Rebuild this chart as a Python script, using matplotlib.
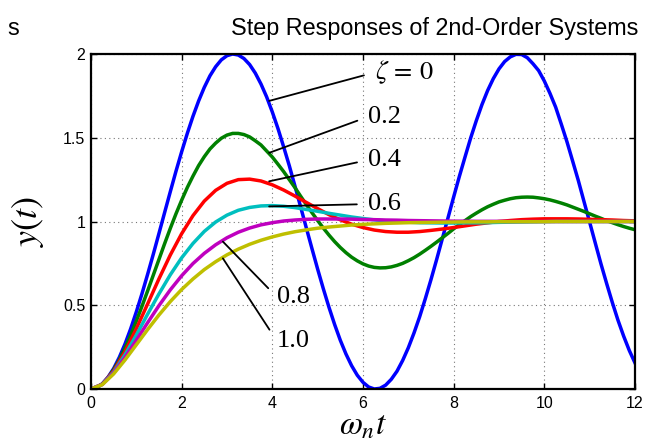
import numpy as np
import matplotlib
matplotlib.use("Agg")
import matplotlib.pyplot as plt

plt.rcParams['mathtext.fontset'] = 'stix'
plt.rcParams['font.family'] = ['Liberation Sans', 'DejaVu Sans']

# omega_n * t sample points (finer grid for the two most oscillating curves)
t_fine = np.arange(0, 12.001, 0.125)
t = np.arange(0, 12.001, 0.25)

# step responses, one list per damping ratio
y_z00 = [0.000, 0.008, 0.031, 0.070, 0.122, 0.189, 0.268, 0.359, 0.460, 0.569,
         0.685, 0.805, 0.929, 1.054, 1.178, 1.300, 1.416, 1.526, 1.628, 1.720,
         1.801, 1.870, 1.924, 1.965, 1.990, 2.000, 1.994, 1.973, 1.937, 1.886,
         1.821, 1.744, 1.654, 1.555, 1.446, 1.333, 1.211, 1.087, 0.962, 0.838,
         0.716, 0.599, 0.488, 0.385, 0.291, 0.209, 0.139, 0.082, 0.040, 0.012,
         0.000, 0.004, 0.023, 0.058, 0.106, 0.170, 0.246, 0.334, 0.431, 0.539,
         0.653, 0.773, 0.897, 1.021, 1.146, 1.268, 1.384, 1.498, 1.602, 1.698,
         1.782, 1.853, 1.911, 1.955, 1.983, 1.998, 1.997, 1.978, 1.942, 1.901,
         1.839, 1.765, 1.683, 1.581, 1.476, 1.361, 1.245, 1.120, 0.996, 0.871,
         0.747, 0.630, 0.517, 0.411, 0.316, 0.230, 0.156]
y_z02 = [0.000, 0.008, 0.030, 0.066, 0.115, 0.174, 0.244, 0.321, 0.405, 0.494,
         0.586, 0.680, 0.774, 0.868, 0.959, 1.046, 1.127, 1.203, 1.271, 1.334,
         1.387, 1.433, 1.468, 1.497, 1.516, 1.526, 1.526, 1.519, 1.505, 1.482,
         1.457, 1.421, 1.385, 1.342, 1.298, 1.250, 1.202, 1.151, 1.101, 1.053,
         1.006, 0.961, 0.919, 0.880, 0.845, 0.814, 0.787, 0.765, 0.747, 0.734,
         0.726, 0.723, 0.724, 0.729, 0.738, 0.750, 0.766, 0.784, 0.805, 0.828,
         0.852, 0.877, 0.903, 0.929, 0.956, 0.981, 1.005, 1.029, 1.050, 1.070,
         1.088, 1.103, 1.117, 1.127, 1.136, 1.142, 1.145, 1.146, 1.145, 1.141,
         1.136, 1.129, 1.120, 1.110, 1.099, 1.086, 1.073, 1.060, 1.046, 1.032,
         1.019, 1.005, 0.993, 0.981, 0.970, 0.960, 0.951]
y_z04 = [0.000, 0.029, 0.108, 0.222, 0.360, 0.508, 0.658, 0.800, 0.927, 1.035,
         1.122, 1.186, 1.228, 1.250, 1.253, 1.242, 1.219, 1.188, 1.152, 1.114,
         1.077, 1.041, 1.010, 0.984, 0.964, 0.949, 0.940, 0.936, 0.936, 0.940,
         0.947, 0.955, 0.964, 0.974, 0.984, 0.992, 1.000, 1.006, 1.011, 1.014,
         1.016, 1.016, 1.016, 1.015, 1.013, 1.011, 1.009, 1.006, 1.004]
y_z06 = [0.000, 0.028, 0.101, 0.204, 0.322, 0.447, 0.568, 0.682, 0.783, 0.869,
         0.941, 0.997, 1.038, 1.067, 1.084, 1.093, 1.095, 1.091, 1.083, 1.072,
         1.061, 1.049, 1.038, 1.027, 1.018, 1.010, 1.004, 0.999, 0.996, 0.993,
         0.992, 0.991, 0.991, 0.992, 0.992, 0.993, 0.995, 0.996, 0.997, 0.998,
         0.999, 1.000, 1.000, 1.000, 1.000, 1.000, 1.000, 1.000, 1.000]
y_z08 = [0.000, 0.027, 0.096, 0.188, 0.291, 0.396, 0.498, 0.592, 0.676, 0.749,
         0.810, 0.861, 0.903, 0.936, 0.961, 0.980, 0.993, 1.003, 1.009, 1.013,
         1.015, 1.015, 1.015, 1.014, 1.012, 1.011, 1.009, 1.008, 1.006, 1.005,
         1.004, 1.003, 1.002, 1.002, 1.001, 1.001, 1.001, 1.000, 1.000, 1.000,
         1.000, 1.000, 1.000, 1.000, 1.000, 1.000, 1.000, 1.000, 1.000]
y_z10 = [0.000, 0.026, 0.090, 0.173, 0.264, 0.355, 0.442, 0.522, 0.594, 0.657,
         0.713, 0.760, 0.801, 0.835, 0.864, 0.888, 0.908, 0.925, 0.939, 0.950,
         0.960, 0.967, 0.973, 0.979, 0.983, 0.986, 0.989, 0.991, 0.993, 0.994,
         0.995, 0.996, 0.997, 0.998, 0.998, 0.998, 0.999, 0.999, 0.999, 0.999,
         0.999, 1.000, 1.000, 1.000, 1.000, 1.000, 1.000, 1.000, 1.000]

series = [(t_fine, y_z00), (t_fine, y_z02), (t, y_z04), (t, y_z06), (t, y_z08), (t, y_z10)]
colors = ['#0000ff', '#008000', '#ff0000', '#00bfbf', '#bf00bf', '#bfbf00']

labels = [r'$\zeta\,=\,0$', '0.2', '0.4', '0.6', '0.8', '1.0']
# (curve point, text point) for each label line
label_xy = [(3.93, 1.72), (3.93, 1.41), (3.93, 1.24), (3.93, 1.09), (2.91, 0.88), (2.91, 0.78)]
label_txt = [(6.26, 1.89), (6.11, 1.625), (6.11, 1.367), (6.11, 1.104), (4.10, 0.549), (4.10, 0.287)]

fig = plt.figure(figsize=(6.54, 4.46), dpi=100)
ax = fig.add_axes([0.1391, 0.1278, 0.8318, 0.7511])

for (xs, ys), c in zip(series, colors):
    ax.plot(xs, ys, color=c, linewidth=2.5, solid_joinstyle='round')

for lab, xy, xt in zip(labels, label_xy, label_txt):
    ax.annotate(lab, xy=xy, xytext=xt, ha='left', va='center',
                fontsize=19, family='Liberation Serif',
                arrowprops=dict(arrowstyle='-', color='k', lw=1.3,
                                shrinkA=6, shrinkB=0, relpos=(0, 0.5)))

ax.set_xlim(0, 12)
ax.set_ylim(0, 2)
ax.set_xticks([0, 2, 4, 6, 8, 10, 12])
ax.set_yticks([0, 0.5, 1, 1.5, 2])
ax.set_yticklabels(['0', '0.5', '1', '1.5', '2'])
ax.tick_params(direction='in', length=4, width=1, labelsize=11.5,
               top=True, right=True)
ax.tick_params(axis='x', pad=5)
ax.tick_params(axis='y', pad=4)
ax.grid(True, linestyle=(0, (1, 3)), color='#777777', linewidth=0.8)
for s in ax.spines.values():
    s.set_linewidth(1.6)

ax.set_xlabel(r'$\omega_n t$', fontsize=24, labelpad=0)
ax.set_ylabel(r'$y(t)$', fontsize=26, labelpad=12)

fig.text(0.664, 0.937, 'Step Responses of 2nd-Order Systems', ha='center',
         va='center', fontsize=16.8)
fig.text(0.012, 0.937, 's', ha='left', va='center', fontsize=16.8)

fig.savefig('out.png', dpi=100)
